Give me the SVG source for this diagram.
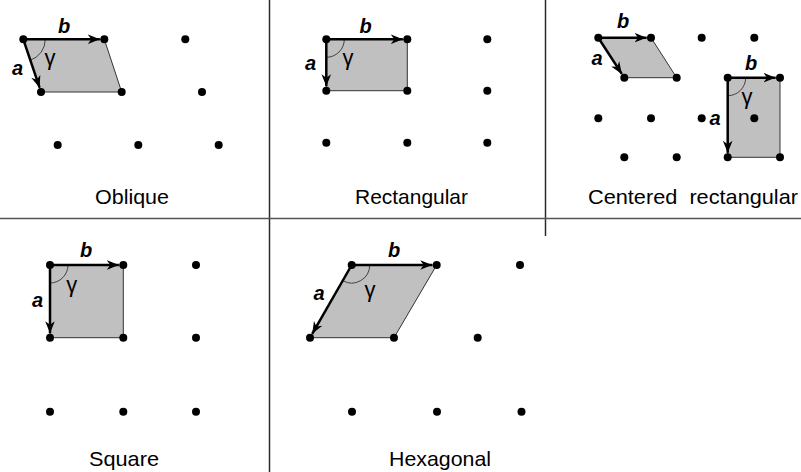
<svg xmlns="http://www.w3.org/2000/svg" width="801" height="472" viewBox="0 0 801 472">
<style>
.grid{stroke:#2a2a2a;stroke-width:1.5;fill:none}
.hgrid{stroke:#555;stroke-width:1.6;fill:none}
.cell{fill:#c0c0c0;stroke:#333;stroke-width:1}
.vec{stroke:#000;stroke-width:2.5;fill:none;marker-end:url(#ah)}
.arc{stroke:#333;stroke-width:0.9;fill:none}
.dot{fill:#000}
.lbl{font-family:"Liberation Sans",Arial,sans-serif;font-weight:bold;font-style:italic;font-size:20px;fill:#000;text-anchor:middle}
.gam{font-family:"Liberation Sans",Arial,sans-serif;font-size:22px;fill:#000;text-anchor:middle}
.title{font-family:"Liberation Sans",Arial,sans-serif;font-size:21px;fill:#000}
</style>
<defs>
<marker id="ah" markerUnits="userSpaceOnUse" markerWidth="14" markerHeight="12" viewBox="-12 -6 14 12" refX="0" refY="0" orient="auto">
<path d="M0,0 L-12,-4.8 L-8.5,0 L-12,4.8 Z" fill="#000"/>
</marker>
</defs>
<rect width="801" height="472" fill="#fff"/>
<g id="grid">
<line class="grid" x1="269.5" y1="0" x2="269.5" y2="472"/>
<line class="grid" x1="545.5" y1="0" x2="545.5" y2="236"/>
<line class="hgrid" x1="0" y1="218.5" x2="801" y2="218.5"/>
</g>
<g id="oblique">
<polygon class="cell" points="23.3,39.3 104.3,39.3 121.7,92 41,92"/>
<path class="arc" d="M45.3,39.3 A22,22 0 0 1 30.3,60.2"/>
<g class="dot">
<circle cx="23.3" cy="39.3" r="4"/><circle cx="104.3" cy="39.3" r="4"/><circle cx="185.3" cy="39.3" r="4"/>
<circle cx="41" cy="92" r="4"/><circle cx="121.7" cy="92" r="4"/><circle cx="202" cy="92" r="4"/>
<circle cx="57.7" cy="145" r="4"/><circle cx="138.3" cy="145" r="4"/><circle cx="218.7" cy="145" r="4"/>
</g>
<line class="vec" x1="23.3" y1="39.3" x2="99.8" y2="39.3"/>
<line class="vec" x1="23.3" y1="39.3" x2="39.6" y2="87.7"/>
<text class="lbl" x="64" y="33">b</text>
<text class="lbl" x="17.5" y="75">a</text>
<text class="gam" x="50" y="65">γ</text>
<text class="title" x="95" y="204" textLength="74" lengthAdjust="spacingAndGlyphs">Oblique</text>
</g>
<g id="rectangular">
<rect class="cell" x="326.3" y="39.3" width="81" height="51.4"/>
<path class="arc" d="M344.3,39.3 A18,18 0 0 1 326.3,57.3"/>
<g class="dot">
<circle cx="326.3" cy="39.3" r="4"/><circle cx="407.3" cy="39.3" r="4"/><circle cx="487.3" cy="39.3" r="4"/>
<circle cx="326.3" cy="90.7" r="4"/><circle cx="407.3" cy="90.7" r="4"/><circle cx="487.3" cy="90.7" r="4"/>
<circle cx="326.3" cy="142.7" r="4"/><circle cx="407.3" cy="142.7" r="4"/><circle cx="487.3" cy="142.7" r="4"/>
</g>
<line class="vec" x1="326.3" y1="39.3" x2="402.8" y2="39.3"/>
<line class="vec" x1="326.3" y1="39.3" x2="326.3" y2="86.2"/>
<text class="lbl" x="365.5" y="33">b</text>
<text class="lbl" x="310.5" y="70">a</text>
<text class="gam" x="348" y="65">γ</text>
<text class="title" x="355" y="204" textLength="113" lengthAdjust="spacingAndGlyphs">Rectangular</text>
</g>
<g id="centered-rectangular">
<polygon class="cell" points="598.3,37.7 651,37.7 676.7,77.7 624.3,77.7"/>
<rect class="cell" x="727.7" y="77.7" width="52.3" height="79.6"/>
<path class="arc" d="M745.7,77.7 A18,18 0 0 1 727.7,95.7"/>
<g class="dot">
<circle cx="598.3" cy="37.7" r="4"/><circle cx="651" cy="37.7" r="4"/><circle cx="701.7" cy="37.7" r="4"/><circle cx="754.3" cy="37.7" r="4"/>
<circle cx="624.3" cy="77.7" r="4"/><circle cx="676.7" cy="77.7" r="4"/><circle cx="727.7" cy="77.7" r="4"/><circle cx="780" cy="77.7" r="4"/>
<circle cx="598.3" cy="118.3" r="4"/><circle cx="651" cy="118.3" r="4"/><circle cx="701.7" cy="118.3" r="4"/><circle cx="754.3" cy="118.3" r="4"/>
<circle cx="624.3" cy="157.3" r="4"/><circle cx="676.7" cy="157.3" r="4"/><circle cx="727.7" cy="157.3" r="4"/><circle cx="780" cy="157.3" r="4"/>
</g>
<line class="vec" x1="598.3" y1="37.7" x2="646.5" y2="37.7"/>
<line class="vec" x1="598.3" y1="37.7" x2="621.8" y2="73.9"/>
<line class="vec" x1="727.7" y1="77.7" x2="775.5" y2="77.7"/>
<line class="vec" x1="727.7" y1="77.7" x2="727.7" y2="152.8"/>
<text class="lbl" x="623" y="28">b</text>
<text class="lbl" x="597" y="65">a</text>
<text class="lbl" x="751" y="70">b</text>
<text class="lbl" x="715" y="125">a</text>
<text class="gam" x="747" y="104">γ</text>
<text class="title" x="588" y="204" textLength="210" lengthAdjust="spacingAndGlyphs" xml:space="preserve">Centered  rectangular</text>
</g>
<g id="square">
<rect class="cell" x="50" y="265" width="73.3" height="72.7"/>
<path class="arc" d="M68,265 A18,18 0 0 1 50,283"/>
<g class="dot">
<circle cx="50" cy="265" r="4"/><circle cx="123.3" cy="265" r="4"/><circle cx="196" cy="265" r="4"/>
<circle cx="50" cy="337.7" r="4"/><circle cx="123.3" cy="337.7" r="4"/><circle cx="196" cy="337.7" r="4"/>
<circle cx="50" cy="411.8" r="4"/><circle cx="123.3" cy="411.8" r="4"/><circle cx="196" cy="411.8" r="4"/>
</g>
<line class="vec" x1="50" y1="265" x2="118.8" y2="265"/>
<line class="vec" x1="50" y1="265" x2="50" y2="333.2"/>
<text class="lbl" x="86" y="257">b</text>
<text class="lbl" x="37.5" y="307">a</text>
<text class="gam" x="71.7" y="292">γ</text>
<text class="title" x="89" y="466" textLength="70" lengthAdjust="spacingAndGlyphs">Square</text>
</g>
<g id="hexagonal">
<polygon class="cell" points="351.7,265 436.7,265 394,337.7 310,337.7"/>
<path class="arc" d="M369.7,265 A18,18 0 0 1 342.7,280.6"/>
<g class="dot">
<circle cx="351.7" cy="265" r="4"/><circle cx="436.7" cy="265" r="4"/><circle cx="520" cy="265" r="4"/>
<circle cx="310" cy="337.7" r="4"/><circle cx="394" cy="337.7" r="4"/><circle cx="477.7" cy="337.7" r="4"/>
<circle cx="352" cy="411.8" r="4"/><circle cx="437" cy="411.8" r="4"/><circle cx="521.5" cy="411.8" r="4"/>
</g>
<line class="vec" x1="351.7" y1="265" x2="432.2" y2="265"/>
<line class="vec" x1="351.7" y1="265" x2="312.2" y2="333.8"/>
<text class="lbl" x="394" y="257">b</text>
<text class="lbl" x="319" y="300">a</text>
<text class="gam" x="370" y="297">γ</text>
<text class="title" x="389" y="466" textLength="102" lengthAdjust="spacingAndGlyphs">Hexagonal</text>
</g>
</svg>
